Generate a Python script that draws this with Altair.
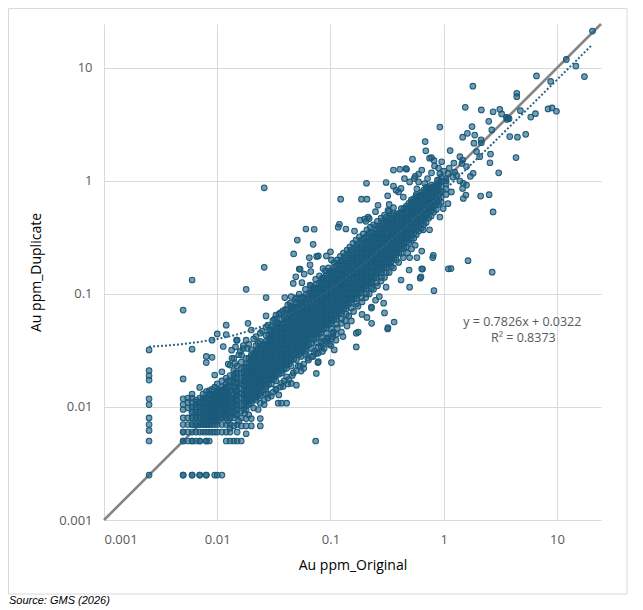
import altair as alt
import pandas as pd

# ---------------- data (ppm) ----------------
# dense core, written as columns: one Original value with its Duplicate values
col_x = [0.0025, 0.005, 0.0055, 0.006, 0.0065, 0.007, 0.0075, 0.008, 0.0085, 0.009,
         0.0095, 0.010, 0.011, 0.012, 0.013, 0.014, 0.015, 0.0163, 0.018, 0.020,
         0.022, 0.024, 0.027, 0.030, 0.033, 0.037, 0.041, 0.045, 0.050, 0.055,
         0.061, 0.068, 0.075, 0.083, 0.092, 0.102, 0.113, 0.125, 0.138, 0.153,
         0.170, 0.188, 0.208, 0.230, 0.255, 0.282, 0.312, 0.345, 0.382, 0.423,
         0.468, 0.518, 0.573, 0.634, 0.700, 0.775, 0.860, 0.950, 1.05]
col_y = [
    [0.0025, 0.005, 0.0062, 0.007, 0.008, 0.0105, 0.0118, 0.0173, 0.019, 0.021, 0.032],
    [0.0025, 0.005, 0.006, 0.007, 0.008, 0.0095, 0.0105, 0.0118, 0.0177, 0.072],
    [0.005, 0.006, 0.007, 0.008, 0.0098, 0.011, 0.012],
    [0.0025, 0.005, 0.006, 0.007, 0.008, 0.009, 0.010, 0.011, 0.012, 0.013, 0.0325, 0.133],
    [0.005, 0.006, 0.007, 0.008, 0.009, 0.0105, 0.0115],
    [0.0025, 0.005, 0.006, 0.007, 0.008, 0.009, 0.010, 0.011, 0.012, 0.0149],
    [0.006, 0.007, 0.008, 0.009, 0.010, 0.011, 0.012, 0.013],
    [0.0025, 0.005, 0.006, 0.007, 0.008, 0.009, 0.010, 0.011, 0.012, 0.0137, 0.0247, 0.028],
    [0.005, 0.006, 0.007, 0.008, 0.009, 0.010, 0.011, 0.012, 0.013, 0.014],
    [0.006, 0.007, 0.008, 0.009, 0.010, 0.011, 0.012, 0.013, 0.0143, 0.0275, 0.039],
    [0.0025, 0.006, 0.007, 0.008, 0.009, 0.010, 0.011, 0.012, 0.013, 0.015, 0.0192],
    [0.0025, 0.006, 0.007, 0.008, 0.009, 0.010, 0.011, 0.012, 0.013, 0.014, 0.016, 0.0443],
    [0.0025, 0.006, 0.007, 0.008, 0.009, 0.010, 0.011, 0.012, 0.013, 0.014, 0.015, 0.017, 0.0205],
    [0.005, 0.006, 0.007, 0.008, 0.009, 0.010, 0.011, 0.012, 0.013, 0.014, 0.016, 0.018, 0.0438, 0.053],
    [0.005, 0.006, 0.007, 0.008, 0.009, 0.010, 0.011, 0.012, 0.014, 0.015, 0.017, 0.019, 0.0235],
    [0.005, 0.0068, 0.008, 0.009, 0.010, 0.011, 0.012, 0.013, 0.015, 0.017, 0.019, 0.021],
    [0.005, 0.006, 0.007, 0.0085, 0.0095, 0.0105, 0.0115, 0.013, 0.014, 0.016, 0.018, 0.020, 0.023],
    [0.005, 0.0068, 0.008, 0.0092, 0.0105, 0.012, 0.013, 0.0145, 0.016, 0.018, 0.020, 0.022, 0.025],
    [0.0058, 0.0068, 0.0079, 0.0095, 0.011, 0.012, 0.0135, 0.015, 0.017, 0.019, 0.021, 0.024, 0.027, 0.039],
    [0.0068, 0.0079, 0.0108, 0.012, 0.0135, 0.015, 0.017, 0.019, 0.021, 0.023, 0.026, 0.029, 0.032, 0.048],
    [0.0115, 0.013, 0.0145, 0.016, 0.018, 0.020, 0.022, 0.025, 0.028, 0.031, 0.035],
    [0.0068, 0.0079, 0.0108, 0.0125, 0.014, 0.0155, 0.017, 0.019, 0.021, 0.024, 0.027, 0.030, 0.034, 0.038],
    [0.013, 0.0145, 0.016, 0.018, 0.020, 0.022, 0.025, 0.028, 0.031, 0.034, 0.038, 0.043, 0.064, 0.093],
    [0.016, 0.0175, 0.019, 0.021, 0.024, 0.027, 0.030, 0.033, 0.037, 0.041, 0.046, 0.051],
    [0.017, 0.019, 0.021, 0.023, 0.026, 0.029, 0.032, 0.036, 0.040, 0.045, 0.050, 0.056, 0.065],
    [0.0108, 0.0162, 0.020, 0.022, 0.025, 0.028, 0.031, 0.035, 0.039, 0.043, 0.048, 0.054, 0.060],
    [0.0108, 0.0185, 0.022, 0.025, 0.028, 0.031, 0.035, 0.039, 0.043, 0.048, 0.053, 0.059, 0.066, 0.072],
    [0.0162, 0.023, 0.026, 0.029, 0.033, 0.037, 0.041, 0.046, 0.051, 0.057, 0.064, 0.071, 0.078, 0.095],
    [0.0156, 0.026, 0.029, 0.032, 0.036, 0.040, 0.045, 0.050, 0.056, 0.062, 0.069, 0.077, 0.085, 0.093],
    [0.0208, 0.028, 0.031, 0.035, 0.039, 0.044, 0.049, 0.055, 0.061, 0.068, 0.076, 0.084, 0.092],
    [0.031, 0.034, 0.038, 0.042, 0.047, 0.052, 0.058, 0.065, 0.072, 0.080, 0.089, 0.099],
    [0.033, 0.037, 0.041, 0.046, 0.051, 0.057, 0.063, 0.070, 0.078, 0.087, 0.097, 0.108, 0.118],
    [0.0198, 0.0298, 0.037, 0.042, 0.047, 0.052, 0.058, 0.065, 0.072, 0.080, 0.089, 0.099, 0.110, 0.122],
    [0.034, 0.041, 0.046, 0.051, 0.057, 0.063, 0.070, 0.078, 0.087, 0.097, 0.108, 0.120, 0.133],
    [0.038, 0.045, 0.050, 0.056, 0.062, 0.069, 0.077, 0.086, 0.096, 0.107, 0.119, 0.132, 0.147],
    [0.0247, 0.040, 0.049, 0.055, 0.061, 0.068, 0.076, 0.085, 0.095, 0.106, 0.118, 0.131, 0.146, 0.162, 0.20],
    [0.044, 0.054, 0.060, 0.067, 0.075, 0.084, 0.094, 0.105, 0.117, 0.130, 0.145, 0.161, 0.178],
    [0.046, 0.060, 0.067, 0.075, 0.084, 0.094, 0.105, 0.117, 0.130, 0.145, 0.161, 0.179, 0.198],
    [0.066, 0.074, 0.083, 0.093, 0.104, 0.116, 0.129, 0.144, 0.160, 0.178, 0.198, 0.22],
    [0.0577, 0.075, 0.084, 0.094, 0.105, 0.117, 0.130, 0.145, 0.161, 0.179, 0.199, 0.221, 0.245],
    [0.082, 0.092, 0.103, 0.115, 0.128, 0.143, 0.159, 0.177, 0.197, 0.219, 0.243, 0.27],
    [0.092, 0.103, 0.115, 0.128, 0.143, 0.159, 0.177, 0.197, 0.219, 0.243, 0.27, 0.30],
    [0.10, 0.112, 0.125, 0.139, 0.155, 0.172, 0.191, 0.212, 0.236, 0.262, 0.291, 0.323],
    [0.0767, 0.112, 0.125, 0.139, 0.155, 0.172, 0.191, 0.212, 0.236, 0.262, 0.291, 0.323, 0.355],
    [0.126, 0.14, 0.156, 0.174, 0.193, 0.215, 0.239, 0.265, 0.295, 0.328, 0.364, 0.40],
    [0.14, 0.156, 0.173, 0.192, 0.214, 0.238, 0.264, 0.293, 0.326, 0.362, 0.40, 0.44],
    [0.155, 0.172, 0.191, 0.212, 0.236, 0.262, 0.291, 0.323, 0.359, 0.398, 0.44, 0.48],
    [0.175, 0.194, 0.216, 0.24, 0.267, 0.297, 0.33, 0.366, 0.406, 0.45, 0.50],
    [0.20, 0.222, 0.247, 0.274, 0.304, 0.338, 0.375, 0.416, 0.462, 0.51],
    [0.229, 0.254, 0.282, 0.313, 0.348, 0.386, 0.429, 0.476, 0.53, 0.57],
    [0.26, 0.289, 0.321, 0.356, 0.395, 0.439, 0.487, 0.54, 0.60],
    [0.30, 0.333, 0.37, 0.41, 0.455, 0.505, 0.56, 0.62, 0.68],
    [0.335, 0.372, 0.413, 0.458, 0.508, 0.564, 0.626, 0.695, 0.76],
    [0.38, 0.422, 0.468, 0.52, 0.577, 0.64, 0.71, 0.79],
    [0.43, 0.477, 0.53, 0.588, 0.653, 0.725, 0.80, 0.88],
    [0.49, 0.544, 0.604, 0.67, 0.744, 0.826, 0.92],
    [0.56, 0.62, 0.69, 0.766, 0.85, 0.94],
    [0.65, 0.72, 0.80, 0.89, 0.99, 1.08],
    [0.76, 0.85, 0.95, 1.05],
]

# second, interleaved set of core columns (the cloud is far denser than one set shows)
core2_x = [0.0125, 0.0145, 0.0172, 0.019, 0.021, 0.023, 0.0255, 0.0285, 0.0315, 0.035,
           0.039, 0.043, 0.0475, 0.0525, 0.058, 0.0645, 0.0715, 0.079, 0.0875, 0.097,
           0.1075, 0.119, 0.1315, 0.1455, 0.161, 0.179, 0.198, 0.219, 0.242, 0.268,
           0.297, 0.328, 0.363, 0.402, 0.445, 0.492, 0.545, 0.603, 0.667, 0.738,
           0.815, 0.905]
core2_y = [
    [0.0075, 0.0085, 0.0095, 0.0105, 0.0115, 0.0125, 0.0135, 0.015, 0.017],
    [0.0085, 0.0095, 0.0105, 0.0115, 0.0125, 0.0138, 0.015, 0.0165, 0.018, 0.020],
    [0.0095, 0.0105, 0.0115, 0.0128, 0.014, 0.0155, 0.017, 0.0185, 0.0205, 0.0225],
    [0.0105, 0.0115, 0.0128, 0.0142, 0.016, 0.018, 0.020, 0.0222, 0.0245, 0.027],
    [0.0118, 0.013, 0.0145, 0.016, 0.0178, 0.0198, 0.022, 0.0245, 0.027, 0.030],
    [0.0128, 0.0142, 0.0158, 0.0175, 0.0195, 0.0215, 0.024, 0.0265, 0.0295, 0.033],
    [0.0142, 0.0158, 0.0175, 0.0195, 0.0215, 0.024, 0.0265, 0.0295, 0.0325, 0.036],
    [0.0158, 0.0175, 0.0195, 0.0215, 0.024, 0.0265, 0.0295, 0.0325, 0.036, 0.040, 0.044],
    [0.0175, 0.0195, 0.0215, 0.024, 0.0265, 0.0295, 0.0325, 0.036, 0.040, 0.044, 0.049],
    [0.0195, 0.0215, 0.024, 0.0265, 0.0295, 0.033, 0.0365, 0.0405, 0.045, 0.050, 0.055],
    [0.0215, 0.024, 0.0265, 0.0295, 0.033, 0.0365, 0.0405, 0.045, 0.050, 0.0555, 0.062],
    [0.024, 0.0265, 0.0295, 0.033, 0.0365, 0.0405, 0.045, 0.050, 0.0555, 0.062, 0.068],
    [0.0265, 0.0295, 0.033, 0.0365, 0.0405, 0.045, 0.050, 0.0555, 0.062, 0.068, 0.075],
    [0.029, 0.0325, 0.036, 0.040, 0.0445, 0.049, 0.0545, 0.0605, 0.067, 0.0745, 0.083],
    [0.032, 0.0355, 0.0395, 0.044, 0.049, 0.0545, 0.0605, 0.067, 0.0745, 0.083, 0.092],
    [0.0355, 0.0395, 0.044, 0.049, 0.0545, 0.0605, 0.067, 0.0745, 0.083, 0.092, 0.102],
    [0.0395, 0.044, 0.049, 0.0545, 0.0605, 0.067, 0.0745, 0.083, 0.092, 0.102, 0.113],
    [0.044, 0.049, 0.0545, 0.0605, 0.067, 0.0745, 0.083, 0.092, 0.102, 0.113, 0.125],
    [0.049, 0.0545, 0.0605, 0.067, 0.0745, 0.083, 0.092, 0.102, 0.113, 0.125, 0.139],
    [0.054, 0.06, 0.0665, 0.074, 0.082, 0.091, 0.101, 0.112, 0.124, 0.138, 0.153],
    [0.06, 0.0665, 0.074, 0.082, 0.091, 0.101, 0.112, 0.124, 0.138, 0.153, 0.17],
    [0.0665, 0.074, 0.082, 0.091, 0.101, 0.112, 0.124, 0.138, 0.153, 0.17, 0.188],
    [0.074, 0.082, 0.091, 0.101, 0.112, 0.124, 0.138, 0.153, 0.17, 0.188, 0.208],
    [0.082, 0.091, 0.101, 0.112, 0.124, 0.138, 0.153, 0.17, 0.188, 0.208, 0.23],
    [0.091, 0.101, 0.112, 0.124, 0.138, 0.153, 0.17, 0.188, 0.208, 0.23, 0.255],
    [0.101, 0.112, 0.124, 0.138, 0.153, 0.17, 0.188, 0.208, 0.23, 0.255, 0.282],
    [0.112, 0.124, 0.138, 0.153, 0.17, 0.188, 0.208, 0.23, 0.255, 0.282, 0.312],
    [0.124, 0.138, 0.153, 0.17, 0.188, 0.208, 0.23, 0.255, 0.282, 0.312, 0.345],
    [0.138, 0.153, 0.17, 0.188, 0.208, 0.23, 0.255, 0.282, 0.312, 0.345],
    [0.153, 0.17, 0.188, 0.208, 0.23, 0.255, 0.282, 0.312, 0.345, 0.382],
    [0.17, 0.188, 0.208, 0.23, 0.255, 0.282, 0.312, 0.345, 0.382, 0.423],
    [0.188, 0.208, 0.23, 0.255, 0.282, 0.312, 0.345, 0.382, 0.423, 0.468],
    [0.208, 0.23, 0.255, 0.282, 0.312, 0.345, 0.382, 0.423, 0.468, 0.518],
    [0.23, 0.255, 0.282, 0.312, 0.345, 0.382, 0.423, 0.468, 0.518],
    [0.255, 0.282, 0.312, 0.345, 0.382, 0.423, 0.468, 0.518, 0.573],
    [0.282, 0.312, 0.345, 0.382, 0.423, 0.468, 0.518, 0.573, 0.634],
    [0.312, 0.345, 0.382, 0.423, 0.468, 0.518, 0.573, 0.634, 0.70],
    [0.36, 0.40, 0.44, 0.49, 0.54, 0.60, 0.66, 0.73],
    [0.41, 0.45, 0.50, 0.555, 0.615, 0.68, 0.75, 0.83],
    [0.47, 0.52, 0.575, 0.635, 0.70, 0.775, 0.86],
    [0.53, 0.59, 0.655, 0.725, 0.80, 0.885],
    [0.62, 0.69, 0.76, 0.84, 0.93, 1.02],
]

# third set: further samples in the middle of the band, same Original values as col_x
core3_x = [0.018, 0.020, 0.022, 0.024, 0.027, 0.030, 0.033, 0.037, 0.041, 0.045,
           0.050, 0.055, 0.061, 0.068, 0.075, 0.083, 0.092, 0.102, 0.113, 0.125,
           0.138, 0.153, 0.170, 0.188, 0.208, 0.230, 0.255, 0.282, 0.312, 0.345,
           0.382, 0.423, 0.468, 0.518, 0.573, 0.634, 0.700, 0.775, 0.860]
core3_y = [
    [0.0102, 0.0115, 0.0128, 0.0142, 0.016, 0.018, 0.020, 0.0225],
    [0.0114, 0.0128, 0.0142, 0.016, 0.018, 0.020, 0.022, 0.0245, 0.0275],
    [0.0122, 0.0138, 0.0152, 0.017, 0.019, 0.021, 0.0235, 0.0265, 0.0295],
    [0.0132, 0.0148, 0.0162, 0.018, 0.020, 0.0225, 0.0255, 0.0285, 0.032],
    [0.0152, 0.017, 0.019, 0.021, 0.0235, 0.0265, 0.0295, 0.0325, 0.036],
    [0.0183, 0.020, 0.0225, 0.0255, 0.0285, 0.0315, 0.035, 0.039, 0.0435],
    [0.020, 0.022, 0.0245, 0.0275, 0.0305, 0.034, 0.038, 0.0425, 0.0475],
    [0.021, 0.0235, 0.0265, 0.0295, 0.033, 0.037, 0.041, 0.0455, 0.051],
    [0.0235, 0.0265, 0.0295, 0.033, 0.037, 0.041, 0.0455, 0.0505, 0.056],
    [0.0275, 0.031, 0.035, 0.039, 0.0435, 0.0485, 0.054, 0.0605, 0.0675],
    [0.0305, 0.034, 0.038, 0.0425, 0.0475, 0.053, 0.059, 0.0655, 0.073],
    [0.033, 0.037, 0.0415, 0.0465, 0.052, 0.058, 0.0645, 0.072, 0.080],
    [0.036, 0.040, 0.0445, 0.0495, 0.055, 0.0615, 0.0685, 0.076, 0.0845],
    [0.0435, 0.0485, 0.054, 0.060, 0.0665, 0.074, 0.0825, 0.092, 0.102],
    [0.0445, 0.0495, 0.055, 0.0615, 0.0685, 0.076, 0.0845, 0.094, 0.1045],
    [0.0485, 0.054, 0.060, 0.0665, 0.074, 0.0825, 0.092, 0.1025, 0.114],
    [0.053, 0.059, 0.0655, 0.073, 0.0815, 0.091, 0.1015, 0.113, 0.1255],
    [0.058, 0.0645, 0.0715, 0.0805, 0.090, 0.1005, 0.112, 0.1245, 0.1385],
    [0.0635, 0.0705, 0.0785, 0.0875, 0.0975, 0.109, 0.121, 0.1345, 0.15],
    [0.071, 0.079, 0.0865, 0.0965, 0.1075, 0.1195, 0.1335, 0.148, 0.165],
    [0.0785, 0.088, 0.0985, 0.110, 0.1225, 0.1365, 0.152, 0.169, 0.188],
    [0.089, 0.099, 0.111, 0.1235, 0.1375, 0.153, 0.170, 0.189, 0.21],
    [0.0975, 0.109, 0.1215, 0.1355, 0.151, 0.168, 0.187, 0.208, 0.231],
    [0.1085, 0.1215, 0.1355, 0.1505, 0.168, 0.187, 0.208, 0.231, 0.256],
    [0.1185, 0.132, 0.147, 0.1635, 0.1815, 0.2015, 0.224, 0.249, 0.2765],
    [0.1285, 0.143, 0.159, 0.1765, 0.196, 0.2175, 0.2415, 0.268, 0.298],
    [0.148, 0.165, 0.1835, 0.204, 0.227, 0.252, 0.28, 0.3115, 0.346],
    [0.1645, 0.1825, 0.203, 0.226, 0.251, 0.2785, 0.3095, 0.344, 0.381],
    [0.1815, 0.2015, 0.224, 0.249, 0.2765, 0.307, 0.341, 0.3785, 0.42],
    [0.2025, 0.2245, 0.2495, 0.2775, 0.3085, 0.343, 0.381, 0.423, 0.47],
    [0.2335, 0.2595, 0.289, 0.321, 0.3565, 0.3955, 0.439, 0.487],
    [0.2675, 0.2975, 0.330, 0.3665, 0.4075, 0.4525, 0.503],
    [0.305, 0.3385, 0.3755, 0.417, 0.463, 0.5135, 0.57],
    [0.3515, 0.39, 0.4325, 0.48, 0.5325, 0.59, 0.65],
    [0.3925, 0.4355, 0.483, 0.536, 0.595, 0.66, 0.73],
    [0.445, 0.494, 0.5485, 0.6085, 0.675, 0.75],
    [0.5035, 0.559, 0.62, 0.688, 0.7625, 0.84],
    [0.574, 0.637, 0.707, 0.785, 0.873],
    [0.655, 0.728, 0.808, 0.895],
]

# repeated low-grade assays (several samples share the same pair of values)
rep_x = [0.006, 0.0065, 0.007, 0.0075, 0.008, 0.0085, 0.009, 0.0095, 0.010, 0.0105,
         0.011, 0.0115, 0.012, 0.005, 0.006, 0.007, 0.008]
rep_y = [
    [0.007, 0.008, 0.009, 0.010],
    [0.007, 0.008, 0.009, 0.010, 0.011],
    [0.007, 0.008, 0.009, 0.010, 0.011],
    [0.007, 0.008, 0.009, 0.010, 0.011, 0.012],
    [0.007, 0.008, 0.009, 0.010, 0.011, 0.012],
    [0.007, 0.008, 0.009, 0.010, 0.011, 0.012],
    [0.0075, 0.0085, 0.0095, 0.0105, 0.0115, 0.0125],
    [0.0075, 0.0085, 0.0095, 0.0105, 0.0115, 0.0125],
    [0.0075, 0.0085, 0.0095, 0.0105, 0.0115, 0.0125, 0.0135],
    [0.008, 0.009, 0.010, 0.011, 0.012, 0.013, 0.014],
    [0.008, 0.009, 0.010, 0.011, 0.012, 0.013, 0.014],
    [0.0085, 0.0095, 0.0105, 0.0115, 0.0125, 0.0135, 0.0145],
    [0.009, 0.010, 0.011, 0.012, 0.013, 0.014, 0.015],
    [0.0025, 0.005, 0.006],
    [0.0025, 0.005],
    [0.0025, 0.005],
    [0.0025, 0.005],
]

# fringe of the core: samples just above and just below the dense band
fringe_x = [0.0125, 0.0135, 0.0155, 0.017, 0.0185, 0.021, 0.023, 0.025, 0.027, 0.029,
            0.032, 0.034, 0.036, 0.04, 0.044, 0.046, 0.049, 0.053, 0.057, 0.06,
            0.066, 0.07, 0.074, 0.08, 0.085, 0.09, 0.096, 0.1, 0.108, 0.115,
            0.122, 0.13, 0.14, 0.148, 0.158, 0.168, 0.18, 0.195, 0.21, 0.225,
            0.24, 0.26, 0.28, 0.3, 0.33, 0.36,
            0.013, 0.0155, 0.0175, 0.019, 0.021, 0.023, 0.026, 0.028, 0.03, 0.033,
            0.036, 0.039, 0.042, 0.046, 0.05, 0.054, 0.058, 0.063, 0.068, 0.072,
            0.078, 0.086, 0.095, 0.105, 0.115, 0.125, 0.135, 0.145, 0.16, 0.175,
            0.19, 0.205, 0.22, 0.24, 0.26, 0.28, 0.3, 0.33, 0.36, 0.4,
            0.44, 0.48, 0.52, 0.56]
fringe_y = [0.024, 0.027, 0.029, 0.035, 0.033, 0.040, 0.037, 0.047, 0.051, 0.048,
            0.060, 0.055, 0.068, 0.073, 0.083, 0.076, 0.09, 0.1, 0.094, 0.11,
            0.12, 0.112, 0.135, 0.145, 0.138, 0.16, 0.17, 0.158, 0.19, 0.2,
            0.215, 0.23, 0.245, 0.26, 0.28, 0.3, 0.32, 0.34, 0.37, 0.39,
            0.41, 0.44, 0.47, 0.5, 0.54, 0.58,
            0.0065, 0.0075, 0.0088, 0.0085, 0.0098, 0.0095, 0.0105, 0.013, 0.0125, 0.0142,
            0.015, 0.017, 0.016, 0.019, 0.021, 0.023, 0.022, 0.027, 0.028, 0.031,
            0.03, 0.036, 0.04, 0.045, 0.05, 0.055, 0.058, 0.064, 0.07, 0.078,
            0.085, 0.093, 0.1, 0.11, 0.118, 0.13, 0.14, 0.155, 0.17, 0.19,
            0.21, 0.23, 0.25, 0.27]

# scattered samples around the core
scatter_x = [0.026, 0.026, 0.018, 0.0395, 0.0607, 0.0718, 0.051, 0.0703, 0.0473, 0.065,
             0.0755, 0.078, 0.092, 0.1, 0.066, 0.053, 0.0586, 0.0494, 0.0469, 0.056,
             0.086, 0.067, 0.054, 0.0187, 0.0775, 0.0345, 0.074,
             0.078, 0.085, 0.098, 0.105, 0.112, 0.108, 0.078,
             0.129, 0.169, 0.169, 0.231, 0.32, 0.365, 0.23, 0.30, 0.295, 0.31, 0.322, 0.176, 0.106,
             0.42, 0.495, 0.62, 0.64, 0.81, 0.82, 0.5, 0.58, 0.80, 0.65, 0.5, 1.1, 0.63, 0.64,
             1.64, 1.16, 2.68, 2.73, 2.12, 2.52, 3.06, 4.35,
             0.123, 0.188, 0.21, 0.208, 0.31, 0.38, 0.40, 0.263, 0.33, 0.12, 0.137, 0.182, 0.2,
             0.215, 0.163, 0.117, 0.25, 0.322, 0.36, 0.41, 0.47, 0.53, 0.463, 0.64, 0.686, 0.695,
             0.82, 0.78, 0.925, 0.205, 0.22,
             0.75, 0.83, 0.96, 1.14, 1.39, 1.47, 1.23, 0.925, 1.09, 1.21, 1.05, 1.39, 1.49, 1.59,
             1.72, 1.82, 1.47, 1.57, 1.49, 1.17, 0.925, 0.81, 0.705, 0.75, 0.64, 0.86, 1.09, 0.99,
             0.925, 0.66, 0.75, 1.45, 1.59, 1.95, 2.08, 2.59, 2.56,
             0.72, 0.78, 0.88, 0.68, 0.9, 1.0, 1.12, 1.25, 1.3, 0.58, 0.6, 0.55,
             0.32, 0.36, 0.42, 0.45, 0.5, 0.44, 0.56, 0.6,
             0.028, 0.031, 0.026, 0.033, 0.035, 0.038, 0.043, 0.047, 0.052, 0.058, 0.064, 0.07, 0.06,
             0.014, 0.016, 0.0145, 0.019, 0.022, 0.024, 0.028, 0.031, 0.035, 0.038, 0.042, 0.015,
             0.0113, 0.0134, 0.0148, 0.0169, 0.0143, 0.0164,
             0.088, 0.094, 0.101, 0.083, 0.14, 0.19, 0.21, 0.25, 0.27,
             20.6, 12.1, 14.7, 17.5, 6.6, 8.8, 1.81, 4.42, 4.42, 1.55, 2.15, 2.73, 3.13, 3.25,
             3.58, 3.78, 3.68, 3.62, 4.76, 5.87, 6.46, 8.35, 9.06, 9.9, 2.5, 1.78, 2.66, 1.47,
             1.62, 1.88, 2.14, 2.15, 1.85, 3.83, 4.48, 5.3]
scatter_y = [0.87, 0.172, 0.11, 0.093, 0.376, 0.374, 0.30, 0.275, 0.226, 0.21,
             0.215, 0.217, 0.217, 0.236, 0.181, 0.166, 0.150, 0.142, 0.124, 0.126,
             0.168, 0.158, 0.166, 0.055, 0.0247, 0.0108, 0.005,
             0.034, 0.031, 0.036, 0.042, 0.039, 0.032, 0.0252,
             0.042, 0.045, 0.034, 0.055, 0.049, 0.0565, 0.075, 0.068, 0.083, 0.115, 0.0503, 0.046, 0.046,
             0.133, 0.163, 0.138, 0.167, 0.22, 0.107, 0.21, 0.21, 0.21, 0.166, 0.115, 0.167, 0.142, 0.24,
             0.197, 0.168, 0.156, 0.532, 0.736, 0.756, 1.18, 1.61,
             0.69, 0.69, 0.69, 0.955, 0.97, 0.83, 0.80, 0.61, 0.62, 0.414, 0.376, 0.45, 0.46,
             0.48, 0.36, 0.39, 0.535, 0.55, 1.25, 1.27, 1.27, 1.56, 1.29, 1.25, 2.23, 1.85,
             1.52, 1.61, 3.0, 0.44, 0.465,
             1.59, 1.36, 1.48, 1.86, 1.64, 1.53, 1.44, 1.16, 1.16, 1.08, 1.0, 1.0, 0.955, 0.92,
             1.1, 1.17, 0.86, 0.75, 0.70, 0.80, 0.78, 0.89, 0.72, 0.59, 0.53, 0.66, 0.63, 0.57,
             0.48, 0.37, 0.37, 1.43, 1.34, 1.82, 1.64, 1.73, 1.45,
             1.05, 1.18, 1.02, 0.95, 1.3, 1.22, 1.3, 1.2, 1.12, 0.85, 0.98, 1.05,
             0.74, 0.9, 0.86, 1.05, 0.98, 0.72, 1.1, 1.15,
             0.012, 0.0135, 0.0115, 0.0145, 0.0128, 0.0152, 0.0175, 0.02, 0.023, 0.024, 0.026, 0.028, 0.0295,
             0.027, 0.031, 0.034, 0.036, 0.042, 0.045, 0.053, 0.058, 0.066, 0.071, 0.08, 0.039,
             0.0343, 0.0318, 0.039, 0.0329, 0.0243, 0.0287,
             0.033, 0.041, 0.035, 0.038, 0.052, 0.066, 0.062, 0.088, 0.095,
             21.2, 11.9, 10.4, 8.4, 8.5, 7.6, 6.9, 5.97, 5.57, 4.49, 4.25, 4.1, 4.31, 3.92,
             3.66, 3.56, 3.62, 3.5, 4.19, 3.68, 3.94, 4.34, 4.43, 4.14, 3.37, 3.03, 2.83, 2.44,
             2.64, 2.55, 2.31, 2.18, 2.16, 2.47, 2.44, 2.59]

# linear trendline as drawn (y = 0.7826x + 0.0322), read along its path
trend_x = [0.0025, 0.004, 0.006, 0.008, 0.01, 0.015, 0.02, 0.03, 0.04, 0.06, 0.08, 0.1,
           0.15, 0.2, 0.3, 0.5, 0.7, 1.0, 2.0, 5.0, 10.0, 20.6]
trend_y = [0.0342, 0.0353, 0.0369, 0.0385, 0.0400, 0.0439, 0.0479, 0.0557, 0.0635, 0.0792,
           0.0948, 0.1105, 0.1496, 0.1887, 0.267, 0.4235, 0.580, 0.815, 1.597, 3.945, 7.858, 16.15]

diag_v = [0.001, 24.5]          # 1:1 line end points
axis_ticks = [0.001, 0.01, 0.1, 1, 10]
eq_labels = ["y = 0.7826x + 0.0322", "R² = 0.8373"]
eq_x = [4.95, 5.05]
eq_y = [0.0565, 0.0405]

# ---------------- tables ----------------
rows = []
for cx, ys in (list(zip(col_x, col_y)) + list(zip(core2_x, core2_y))
               + list(zip(core3_x, core3_y)) + list(zip(rep_x, rep_y))):
    for cy in ys:
        rows.append({"orig": cx, "dup": cy})
for sx, sy in list(zip(fringe_x, fringe_y)) + list(zip(scatter_x, scatter_y)):
    rows.append({"orig": sx, "dup": sy})
pts = pd.DataFrame(rows)
trend = pd.DataFrame({"orig": trend_x, "dup": trend_y})
diag = pd.DataFrame({"orig": diag_v, "dup": diag_v})
eq = pd.DataFrame({"orig": eq_x, "dup": eq_y, "label": eq_labels})
one = pd.DataFrame({"k": [0]})

FONT = "Open Sans"
xs = alt.Scale(type="log", domain=[0.001, 24.5], nice=False)
ys_ = alt.Scale(type="log", domain=[0.001, 24.5], nice=False)

x_axis = alt.Axis(values=axis_ticks, format="~g", grid=True, gridColor="#d9d9d9", gridWidth=1,
                  domain=False, ticks=False, labelColor="#595959", labelFont=FONT,
                  labelFontSize=13, labelPadding=13, title="Au ppm_Original",
                  titleFont=FONT, titleFontSize=14, titleFontWeight="normal",
                  titleColor="#000000", titleY=45, titleBaseline="middle")
y_axis = alt.Axis(values=axis_ticks, format="~g", grid=True, gridColor="#d9d9d9", gridWidth=1,
                  domain=False, ticks=False, labelColor="#595959", labelFont=FONT,
                  labelFontSize=13, labelPadding=12, title="Au ppm_Duplicate",
                  titleFont=FONT, titleFontSize=14, titleFontWeight="normal",
                  titleColor="#000000", titleX=-68, titleY=248, titleAngle=270,
                  titleBaseline="middle", titleAlign="center")


def X(field="orig"):
    return alt.X(field, type="quantitative", scale=xs, axis=x_axis)


def Y(field="dup"):
    return alt.Y(field, type="quantitative", scale=ys_, axis=y_axis)


frame = alt.Chart(one).mark_rect(fill="white", fillOpacity=0, stroke="#d9d9d9",
                                  strokeWidth=1).encode(
    x=alt.value(-95.5), x2=alt.value(523), y=alt.value(-15.5), y2=alt.value(570))

diag_line = alt.Chart(diag).mark_line(color="#858585", strokeWidth=2.6).encode(x=X(), y=Y())

points = alt.Chart(pts).mark_circle(size=32, fill="#1b5c7d", fillOpacity=0.6,
                                     stroke="#1b5a7a", strokeWidth=1.05, opacity=1).encode(
    x=X(), y=Y())

trend_line = alt.Chart(trend).mark_line(color="#2a6586", strokeWidth=2, strokeDash=[2, 2],
                                         interpolate="monotone").encode(x=X(), y=Y())

eq_text = alt.Chart(eq).mark_text(font=FONT, fontSize=12.5, color="#595959",
                                   align="center", baseline="middle").encode(
    x=X(), y=Y(), text="label:N")

source = alt.Chart(one).mark_text(font="Liberation Sans", fontSize=11, fontStyle="italic",
                                   color="#000000", align="left", baseline="middle").encode(
    x=alt.value(-95), y=alt.value(577), text=alt.value("Source: GMS (2026)"))

chart = alt.layer(frame, diag_line, points, trend_line, eq_text, source).properties(
    width=497, height=496,
    autosize=alt.AutoSizeParams(type="none"),
    padding={"left": 96, "top": 16, "right": 34, "bottom": 88},
    background="white",
).configure_view(strokeWidth=0)

chart.save("out.html", embed_options={"renderer": "svg", "actions": False})
